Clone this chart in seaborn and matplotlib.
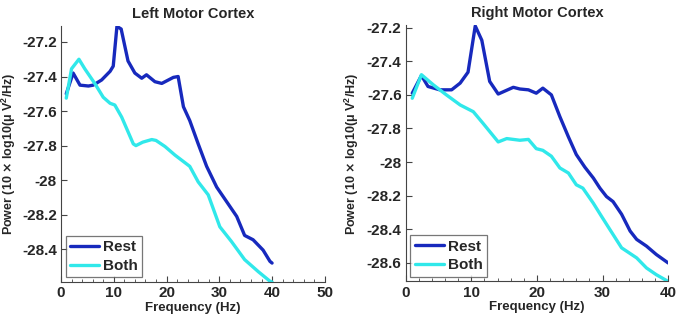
import matplotlib
matplotlib.use("Agg")
import matplotlib.pyplot as plt
from matplotlib.ticker import MultipleLocator
import seaborn as sns
import pandas as pd

# Values (frequency in Hz, power in 10*log10(uV^2/Hz))
left_rest_f = [1, 2.3, 3.6, 5.2, 6.1, 7.7, 9.3, 9.9, 10.6, 11.4, 12.7, 14.0, 15.3, 16.2, 17.8, 19.1,
               21.3, 22.2, 23.2, 24.4, 26.0, 27.6, 29.5, 31.4, 33.3, 34.8, 36.4, 38.3, 39.6, 40]
left_rest_p = [-27.50, -27.38, -27.45, -27.455, -27.45, -27.42, -27.37, -27.34, -27.11, -27.125, -27.31,
               -27.38, -27.41, -27.39, -27.43, -27.44, -27.405, -27.40, -27.575, -27.655, -27.79,
               -27.92, -28.04, -28.125, -28.21, -28.32, -28.345, -28.405, -28.47, -28.48]
left_both_f = [1, 2.0, 3.4, 4.5, 6.4, 8.0, 9.3, 10.2, 11.5, 13.7, 14.2, 15.5, 17.2, 18, 19.7, 21.6,
               24.4, 26.0, 27.9, 30.1, 32.3, 34.8, 37.4, 39.6, 40]
left_both_p = [-27.525, -27.355, -27.30, -27.355, -27.44, -27.52, -27.555, -27.565, -27.635, -27.79,
               -27.80, -27.78, -27.765, -27.77, -27.805, -27.855, -27.92, -28.01, -28.085, -28.27,
               -28.355, -28.46, -28.53, -28.585, -28.59]

right_rest_f = [1, 2.4, 3.4, 5.2, 7.0, 8.3, 9.5, 10.6, 11.6, 12.8, 14.1, 16.4, 17.4, 18.7, 19.9, 20.9,
                22.2, 23.5, 24.8, 26.0, 27.3, 28.6, 29.6, 30.6, 31.6, 32.9, 34.2, 35.2, 36.7, 38.2, 40]
right_rest_p = [-27.59, -27.485, -27.55, -27.57, -27.57, -27.53, -27.465, -27.19, -27.275, -27.52,
                -27.595, -27.555, -27.565, -27.57, -27.59, -27.56, -27.60, -27.73, -27.85, -27.955,
                -28.03, -28.095, -28.155, -28.205, -28.235, -28.31, -28.41, -28.46, -28.50, -28.55, -28.60]
right_both_f = [1, 2.4, 4.2, 6.2, 8.3, 10.3, 11.8, 14.1, 15.4, 17.4, 18.7, 19.9, 20.9, 22.2, 23.5,
                24.8, 26.0, 27.0, 28.6, 29.8, 31.1, 32.9, 35.2, 36.7, 38.2, 40]
right_both_p = [-27.62, -27.48, -27.54, -27.60, -27.66, -27.70, -27.77, -27.88, -27.86, -27.87, -27.865,
                -27.92, -27.93, -27.965, -28.035, -28.065, -28.135, -28.155, -28.245, -28.32, -28.40,
                -28.51, -28.57, -28.63, -28.67, -28.71]

conditions = ["Rest", "Both"]
colors = {"Rest": "#1729bd", "Both": "#30e8ea"}


def make_df(rest_f, rest_p, both_f, both_p):
    a = pd.DataFrame({"freq": rest_f, "power": rest_p, "cond": "Rest"})
    b = pd.DataFrame({"freq": both_f, "power": both_p, "cond": "Both"})
    return pd.concat([a, b], ignore_index=True)


sns.set_style("ticks")
plt.rcParams["font.family"] = ["Liberation Sans", "DejaVu Sans"]
plt.rcParams["font.weight"] = "bold"
plt.rcParams["xtick.direction"] = "in"
plt.rcParams["ytick.direction"] = "in"

fig = plt.figure(figsize=(6.8, 3.18), dpi=100)
ax1 = fig.add_axes([0.0897, 0.113, 0.388, 0.805])
ax2 = fig.add_axes([0.5966, 0.115, 0.386, 0.806])

panels = [
    (ax1, make_df(left_rest_f, left_rest_p, left_both_f, left_both_p), "Left Motor Cortex",
     (0, 50), (-28.59, -27.108), [-28.4, -28.2, -28, -27.8, -27.6, -27.4, -27.2], -0.163),
    (ax2, make_df(right_rest_f, right_rest_p, right_both_f, right_both_p), "Right Motor Cortex",
     (0, 40), (-28.71, -27.185), [-28.6, -28.4, -28.2, -28, -27.8, -27.6, -27.4, -27.2], -0.171),
]

for ax, df, title, xlim, ylim, yticks, ylab_x in panels:
    sns.lineplot(data=df, x="freq", y="power", hue="cond", hue_order=conditions,
                 palette=colors, linewidth=2.4, ax=ax, sort=False)
    ax.set_xlim(*xlim)
    ax.set_ylim(*ylim)
    ax.set_yticks(yticks)
    ax.set_yticklabels([("%g" % t) for t in yticks])
    ax.xaxis.set_major_locator(MultipleLocator(10))
    ax.xaxis.set_minor_locator(MultipleLocator(2))
    ax.tick_params(axis="both", which="major", labelsize=11, length=4, color="#444444", pad=3)
    ax.tick_params(axis="x", which="minor", length=2, color="#444444")
    for lab in ax.get_xticklabels() + ax.get_yticklabels():
        lab.set_fontweight("bold")
    ax.set_title(title, fontsize=10.5, fontweight="bold", pad=6)
    ax.set_xlabel("Frequency (Hz)", fontsize=9.5, fontweight="bold", labelpad=1)
    ax.set_ylabel("Power (10 $\\times$ log10($\\mathregular{\\mu}$ V$^\\mathregular{2}$/Hz)",
                  fontsize=9, fontweight="bold")
    ax.yaxis.set_label_coords(ylab_x, 0.5)
    sns.despine(ax=ax)
    for s in ["left", "bottom"]:
        ax.spines[s].set_color("#444444")
        ax.spines[s].set_linewidth(0.8)
    leg = ax.legend(loc="lower left", handlelength=1.9, handletextpad=0.25,
                    borderpad=0.3, labelspacing=0.3, borderaxespad=0.3, fancybox=False,
                    frameon=True, title=None, prop={"weight": "bold", "size": 11})
    leg.get_frame().set_edgecolor("#555555")
    leg.get_frame().set_linewidth(0.9)
    for h in leg.get_lines():
        h.set_linewidth(2.4)

fig.savefig("out.png", dpi=100)
